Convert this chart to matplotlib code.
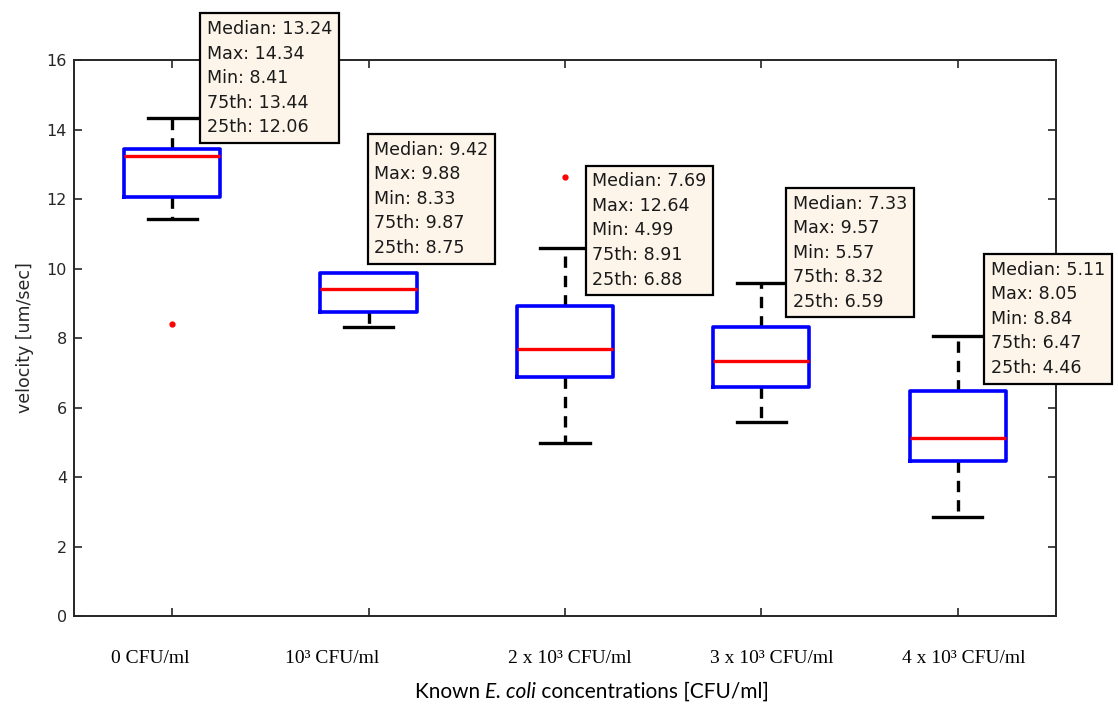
import numpy as np
import matplotlib
matplotlib.use("Agg")
import matplotlib.pyplot as plt

# Concentration groups (categories)
groups = ["0 CFU/ml", "10³ CFU/ml", "2 x 10³ CFU/ml", "3 x 10³ CFU/ml", "4 x 10³ CFU/ml"]

# Box statistics
medians = [13.24, 9.42, 7.69, 7.33, 5.11]
q3s = [13.44, 9.87, 8.91, 8.32, 6.47]
q1s = [12.06, 8.75, 6.88, 6.59, 4.46]
whisk_hi = [14.34, 9.87, 10.60, 9.57, 8.05]
whisk_lo = [11.42, 8.33, 4.99, 5.57, 2.84]
outliers = [[8.41], [], [12.64], [], []]

# Text shown in the data-tip boxes (as printed in the original)
tip_median = ["13.24", "9.42", "7.69", "7.33", "5.11"]
tip_max = ["14.34", "9.88", "12.64", "9.57", "8.05"]
tip_min = ["8.41", "8.33", "4.99", "5.57", "8.84"]
tip_75 = ["13.44", "9.87", "8.91", "8.32", "6.47"]
tip_25 = ["12.06", "8.75", "6.88", "6.59", "4.46"]

# where each data tip sits (data coords of its top-left text corner)
tip_pos = [(1.175, 17.15), (2.03, 13.68), (3.14, 12.77), (4.16, 12.13), (5.17, 10.23)]
# small horizontal shifts (px) of the category labels
label_shift = [-22, -36, 5, 10, 6]

fig = plt.figure(figsize=(11.18, 7.13), dpi=100)
ax = fig.add_axes([0.0662, 0.136, 0.8783, 0.7798])

positions = np.arange(1, len(groups) + 1)
stats = []
for i in range(len(groups)):
    stats.append(dict(med=medians[i], q1=q1s[i], q3=q3s[i],
                      whislo=whisk_lo[i], whishi=whisk_hi[i],
                      fliers=outliers[i]))

bp = ax.bxp(stats, positions=positions, widths=0.49, showfliers=True,
            boxprops=dict(color="#0000ff", linewidth=2.6, zorder=4),
            medianprops=dict(color="#ff0000", linewidth=2.4, zorder=5),
            whiskerprops=dict(color="black", linewidth=2.4, linestyle=(0, (3.4, 2.4)), zorder=2),
            capprops=dict(color="black", linewidth=2.4, zorder=2),
            capwidths=0.25,
            flierprops=dict(marker="o", markerfacecolor="#ff0000",
                            markeredgecolor="#ff0000", markersize=3.5))

# a whisker that ends on the box edge is hidden behind the box
for i in range(len(groups)):
    if whisk_hi[i] <= q3s[i]:
        bp["caps"][2 * i + 1].set_visible(False)
        bp["whiskers"][2 * i + 1].set_visible(False)

ax.set_xlim(0.5, 5.5)
ax.set_ylim(0, 16)
ax.set_yticks(np.arange(0, 17, 2))
ax.set_xticks(positions)
ax.set_xticklabels([])
ax.tick_params(direction="in", length=6, width=1.2, top=True, right=True,
               colors="#262626", labelsize=11.5, pad=5)
for s in ax.spines.values():
    s.set_color("#262626")
    s.set_linewidth(1.4)

ax.set_ylabel("velocity [um/sec]", fontsize=12.5, color="#262626", labelpad=9)

# category labels below the axis
for i, g in enumerate(groups):
    ax.annotate(g, xy=(positions[i], 0), xycoords="data",
                xytext=(label_shift[i], -42), textcoords="offset pixels",
                ha="center", va="center", fontsize=14,
                family="Liberation Serif", annotation_clip=False)

# x label in three pieces so the species name can be italic
t1 = fig.text(0.371, 0.016, "Known ", ha="left", va="bottom",
              fontsize=15, family="Lato")
t2 = ax.annotate("E. coli", xy=(1, 0), xycoords=t1, ha="left", va="bottom",
                 fontsize=15, family="Lato", style="italic", annotation_clip=False)
t3 = ax.annotate(" concentrations [CFU/ml]", xy=(1, 0), xycoords=t2,
                 ha="left", va="bottom", fontsize=15, family="Lato",
                 annotation_clip=False)

# data tips
for i in range(len(groups)):
    txt = ("Median: " + tip_median[i] + "\nMax: " + tip_max[i] +
           "\nMin: " + tip_min[i] + "\n75th: " + tip_75[i] +
           "\n25th: " + tip_25[i])
    ax.text(tip_pos[i][0], tip_pos[i][1], txt, ha="left", va="top",
            fontsize=12.6, linespacing=1.47, color="#1a1a1a",
            clip_on=False, zorder=10,
            bbox=dict(boxstyle="square,pad=0.38", facecolor="#fdf5ea",
                      edgecolor="black", linewidth=1.6))

fig.savefig("out.png", dpi=100)
